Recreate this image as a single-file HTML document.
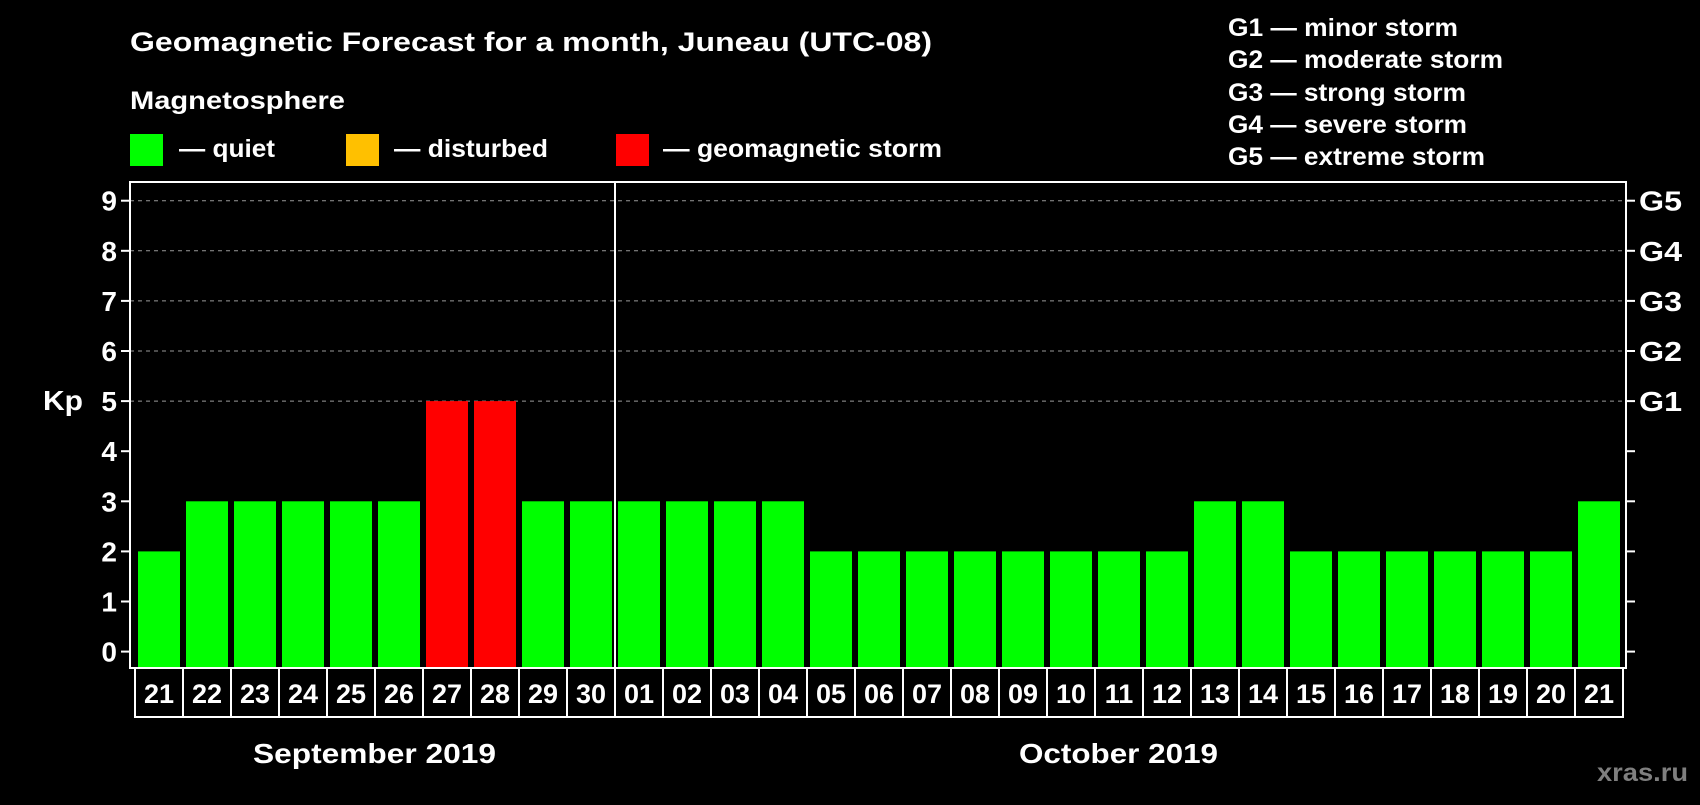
<!DOCTYPE html>
<html><head><meta charset="utf-8"><style>
body{margin:0;background:#000;}
svg text{font-family:"Liberation Sans",Arial,sans-serif;font-weight:bold;fill:#fff;}
</style></head><body>
<svg id="chart" width="1700" height="800" viewBox="0 0 1700 800">
<rect width="1700" height="800" fill="#000"/>
<text x="130" y="51" font-size="27" textLength="802" lengthAdjust="spacingAndGlyphs">Geomagnetic Forecast for a month, Juneau (UTC-08)</text>
<text x="130" y="109" font-size="25" textLength="215" lengthAdjust="spacingAndGlyphs">Magnetosphere</text>
<g><rect x="130" y="134" width="33" height="32" fill="#00ff00"/><text x="179" y="157" font-size="25" textLength="96" lengthAdjust="spacingAndGlyphs">— quiet</text></g>
<g><rect x="346" y="134" width="33" height="32" fill="#ffc000"/><text x="394" y="157" font-size="25" textLength="154" lengthAdjust="spacingAndGlyphs">— disturbed</text></g>
<g><rect x="616" y="134" width="33" height="32" fill="#ff0000"/><text x="663" y="157" font-size="25" textLength="279" lengthAdjust="spacingAndGlyphs">— geomagnetic storm</text></g>
<g font-size="25">
<text x="1228" y="36" textLength="230" lengthAdjust="spacingAndGlyphs">G1 — minor storm</text>
<text x="1228" y="68" textLength="275" lengthAdjust="spacingAndGlyphs">G2 — moderate storm</text>
<text x="1228" y="101" textLength="238" lengthAdjust="spacingAndGlyphs">G3 — strong storm</text>
<text x="1228" y="133" textLength="239" lengthAdjust="spacingAndGlyphs">G4 — severe storm</text>
<text x="1228" y="165" textLength="257" lengthAdjust="spacingAndGlyphs">G5 — extreme storm</text>
</g>
<text x="43" y="410" font-size="28" textLength="40" lengthAdjust="spacingAndGlyphs">Kp</text>
<g id="grid"></g><g id="bars"></g><g id="axes"></g><g id="dates"></g>
<text x="253" y="763" font-size="28" textLength="243" lengthAdjust="spacingAndGlyphs">September 2019</text>
<text x="1019" y="763" font-size="28" textLength="199" lengthAdjust="spacingAndGlyphs">October 2019</text>
<text x="1597" y="781" font-size="25" textLength="91" lengthAdjust="spacingAndGlyphs" style="fill:#7f7f7f">xras.ru</text>
</svg>
<script>
const days=["21","22","23","24","25","26","27","28","29","30","01","02","03","04","05","06","07","08","09","10","11","12","13","14","15","16","17","18","19","20","21"];
const kp=[2,3,3,3,3,3,5,5,3,3,3,3,3,3,2,2,2,2,2,2,2,2,3,3,2,2,2,2,2,2,3];
const yTicks=[0,1,2,3,4,5,6,7,8,9];
const gLabels=["G1","G2","G3","G4","G5"];
const NS="http://www.w3.org/2000/svg";
const X0=135,SLOT=48,Y0=651.6,UNIT=50.1,L=130,R=1626,T=182,B=668;
const xs=i=>X0+i*SLOT, ys=v=>Y0-v*UNIT;
function mk(tag,attrs,parent){const e=document.createElementNS(NS,tag);for(const k in attrs)e.setAttribute(k,attrs[k]);document.getElementById(parent).appendChild(e);return e;}
function color(v){return v>=5?"#ff0000":v>=4?"#ffc000":"#00ff00";}
yTicks.forEach(v=>{
 if(v>=5){const g=mk("line",{x1:L,x2:R,y1:ys(v),y2:ys(v),stroke:"#999","stroke-dasharray":"4,4","stroke-width":1},"grid");
 
 }
 const t=mk("line",{x1:L-9,x2:L,y1:ys(v),y2:ys(v),stroke:"#fff","stroke-width":2},"axes");
 
 
 const t2=mk("line",{x1:R,x2:R+9,y1:ys(v),y2:ys(v),stroke:"#fff","stroke-width":2},"axes");
 
 
 const lb=mk("text",{x:L-13,y:ys(v)+10,"font-size":28,"text-anchor":"end"},"axes");lb.textContent=v;
 
 
});
gLabels.forEach((g,i)=>{const lb=mk("text",{x:1639,y:ys(5+i)+10,"font-size":28,textLength:43,lengthAdjust:"spacingAndGlyphs"},"axes");lb.textContent=g;
 
 });
kp.forEach((v,i)=>{const b=mk("rect",{x:xs(i)+3,y:ys(v),width:42,height:B-1-ys(v),fill:color(v)},"bars");
 
 });
const fr=mk("rect",{x:L,y:T,width:R-L,height:B-T,fill:"none",stroke:"#fff","stroke-width":2},"axes");


const sep=days.indexOf("01");
const sl=mk("line",{x1:xs(sep),x2:xs(sep),y1:T,y2:B,stroke:"#fff","stroke-width":2},"axes");


days.forEach((d,i)=>{const c=mk("rect",{x:xs(i),y:B,width:SLOT,height:49,fill:"none",stroke:"#fff","stroke-width":2},"dates");
 
 
 const t=mk("text",{x:xs(i)+SLOT/2,y:B+35,"font-size":27,"text-anchor":"middle"},"dates");t.textContent=d;
 
 });
</script>
</body></html>
